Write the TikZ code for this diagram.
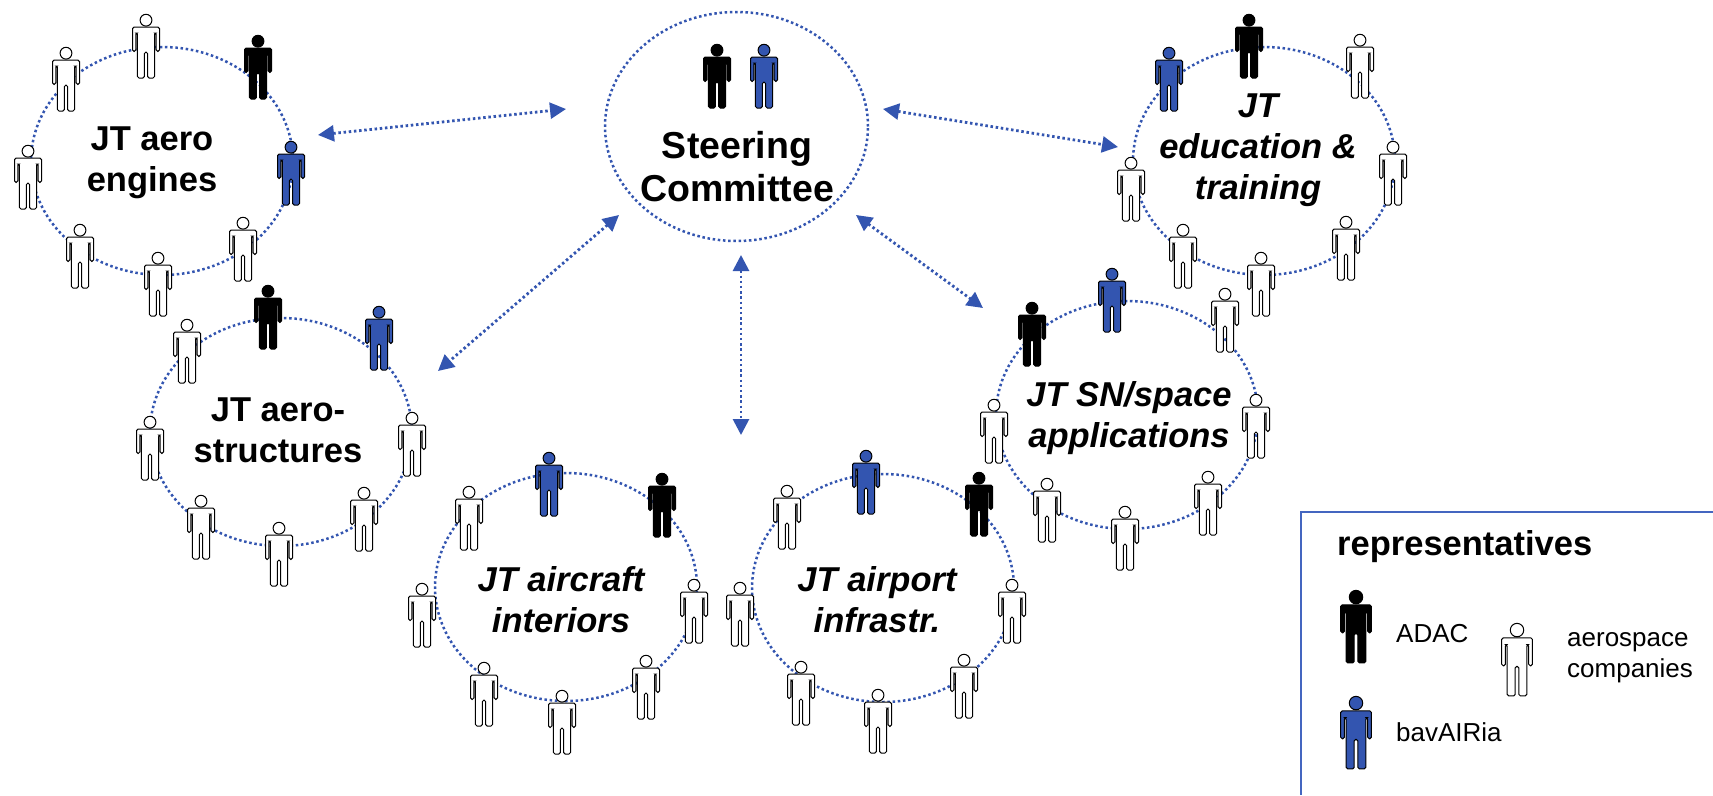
\documentclass[tikz,border=0pt]{standalone}
\usepackage{fontspec}
\setmainfont{Liberation Sans}
\usetikzlibrary{shapes.geometric,arrows.meta}
\definecolor{jtblue}{HTML}{3355B0}
\definecolor{boxblue}{HTML}{4466C0}
\tikzset{
  x=1pt,y=-1pt,
  dots/.style={draw=jtblue,line width=2.5pt,dash pattern=on 2.5pt off 2.7pt},
  ring/.style={ellipse,dots,minimum width=262pt,minimum height=228pt,inner sep=0pt},
  link/.style={dots,line width=2.8pt,{Triangle[length=16pt,width=16pt,fill=jtblue]}-{Triangle[length=16pt,width=16pt,fill=jtblue]}},
  jtlabel/.style={align=center,font=\fontsize{34.5}{41}\selectfont\bfseries},
  jtitalic/.style={align=center,font=\fontsize{34.5}{41}\selectfont\bfseries\itshape},
  legendtext/.style={anchor=base west,align=left,font=\fontsize{26}{31}\selectfont},
  legendhead/.style={anchor=base west,font=\fontsize{34.5}{40}\selectfont\bfseries},
  pics/person/.style={code={
    \path[fill=#1,draw=black,line width=1pt,rounded corners=1.6pt]
      (-13.5,13)--(13.5,13)--(13.5,37.5)--(10.2,37.5)--(10.2,19)--(8.6,19)--(8.6,64)--(1.6,64)--(1.6,38)
      --(-1.6,38)--(-1.6,64)--(-8.6,64)--(-8.6,19)--(-10.2,19)--(-10.2,37.5)--(-13.5,37.5)--cycle;
    \path[fill=#1,draw=black,line width=1pt] (0,6.2) circle (5.9);
  }}
}
\newcommand{\crew}[3]{% black at, blue at, white list
  \pic at (#1) {person=black};
  \pic at (#2) {person=jtblue};
  \foreach \px/\py in {#3} {\pic at (\px,\py) {person=white};}
}
\begin{document}
\begin{tikzpicture}
\useasboundingbox (0,0) rectangle (1713,795);
% rings
\node[ring] (engines) at (162,161) {};
\node[ring] (structures) at (281,432) {};
\node[ring] (interiors) at (566,587) {};
\node[ring] (airport) at (883,588) {};
\node[ring] (space) at (1127,415) {};
\node[ring] (education) at (1264,161) {};
\node[ring,minimum width=263pt,minimum height=229pt] (steering) at (736.5,126.5) {};
% arrow ends
\coordinate (a1) at (318,135); \coordinate (a2) at (566,109);
\coordinate (b1) at (883,109); \coordinate (b2) at (1118,147);
\coordinate (c1) at (619,215); \coordinate (c2) at (438,371);
\coordinate (d1) at (856,215); \coordinate (d2) at (983,308);
\coordinate (e1) at (741,255); \coordinate (e2) at (741,435);
\draw[link] (a1)--(a2);
\draw[link] (b1)--(b2);
\draw[link] (c1)--(c2);
\draw[link] (d1)--(d2);
\draw[link] (e1)--(e2);
% people
\pic at (717,44) {person=black};
\pic at (764,44) {person=jtblue};
\crew{258,35}{291,141}{146/14,66/47,28/145,80/224,158/252,243/217}
\crew{1249,14}{1169,47}{1360/34,1393/141,1346/216,1261/252,1183/224,1131/157}
\crew{268,285}{379,306}{187/319,150/416,412/412,364/487,279/522,201/495}
\crew{1032,302}{1112,268}{1225/288,1256/394,1208/471,1125/506,1047/478,994/399}
\crew{662,473}{549,452}{469/486,422/583,694/579,646/655,562/690,484/662}
\crew{979,472}{866,450}{787/485,740/582,1012/579,964/654,878/689,801/661}
% labels
\node[jtlabel] (tengines) at (152,163) {JT aero\\engines};
\node[jtlabel,font=\fontsize{37.5}{43}\selectfont\bfseries] (tsteering) at (737,166.5) {Steering\\Committee};
\node[jtlabel] (tstructures) at (278,430) {JT aero-\\structures};
\node[jtitalic] (tinteriors) at (561,600) {JT aircraft\\interiors};
\node[jtitalic] (tairport) at (877,600) {JT airport\\infrastr.};
\node[jtitalic] (tspace) at (1129,418.5) {JT SN/space\\applications};
\node[jtitalic] (teducation) at (1258,150) {JT\\education \&\\training};
% legend
\draw[boxblue,line width=1.4pt] (1713,512)--(1301,512)--(1301,795);
\node[legendhead,inner sep=0pt] (lhead) at (1337,555) {representatives};
\pic[scale=1.14] at (1356,590) {person=black};
\pic[scale=1.14] at (1356,696) {person=jtblue};
\pic[scale=1.14] at (1517,623) {person=white};
\node[legendtext,inner sep=0pt] (ladac) at (1396,642) {ADAC};
\node[legendtext,inner sep=0pt] (lbav) at (1396,741) {bavAIRia};
\node[legendtext,inner sep=0pt] (laero) at (1567,677) {aerospace\\companies};
\end{tikzpicture}
\end{document}
